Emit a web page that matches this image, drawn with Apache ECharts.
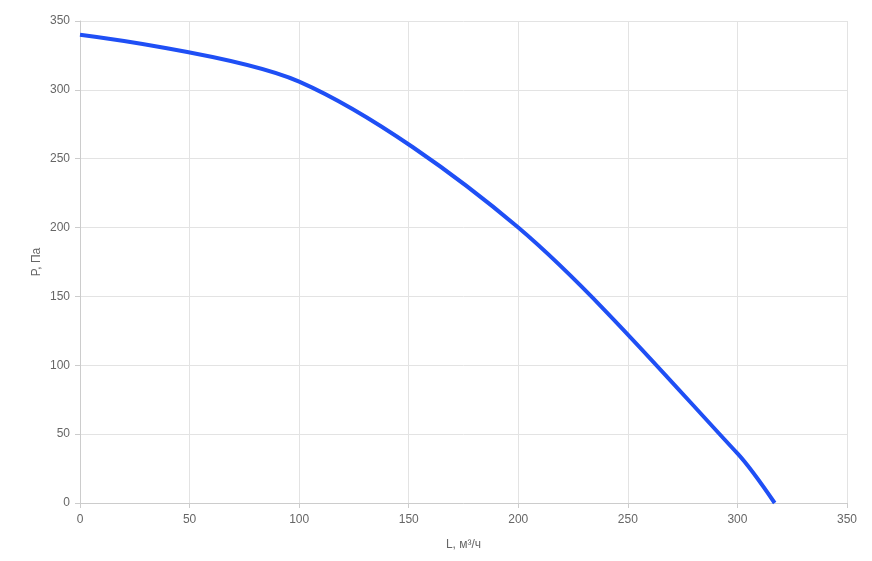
<!DOCTYPE html>
<html>
<head>
<meta charset="utf-8">
<script src="https://cdn.jsdelivr.net/npm/echarts@6/dist/echarts.min.js"></script>
<style>html,body{margin:0;padding:0;background:#fff}#c{width:872px;height:561px}</style>
</head>
<body>
<div id="c"></div>
<script>
const flowL = [0, 100, 200, 300, 317];
const pressureP = [340, 306, 200, 36, 0];
const xTicks = {min: 0, max: 350, interval: 50};
const yTicks = {min: 0, max: 350, interval: 50};
const xName = 'L, м³/ч';
const yName = 'P, Па';

const chart = echarts.init(document.getElementById('c'), null, {renderer: 'canvas'});
const fontFam = '"Liberation Sans", Arial, sans-serif';
const axisCommon = {
  axisLine: {show: true, lineStyle: {color: '#cccccc'}},
  axisTick: {show: true, length: 5, lineStyle: {color: '#cccccc'}},
  splitLine: {show: true, lineStyle: {color: '#e3e3e3'}},
  axisLabel: {color: '#666', fontSize: 12, fontFamily: fontFam},
  nameTextStyle: {color: '#666', fontSize: 12, fontFamily: fontFam}
};
chart.setOption({
  animation: false,
  grid: {left: 80, right: 25, top: 21, bottom: 58, containLabel: false},
  xAxis: Object.assign({}, axisCommon, {
    type: 'value', min: xTicks.min, max: xTicks.max, interval: xTicks.interval,
    name: xName, nameLocation: 'middle', nameGap: 36, nameMoveOverlap: false,
    axisLabel: Object.assign({}, axisCommon.axisLabel, {margin: 11})
  }),
  yAxis: Object.assign({}, axisCommon, {
    type: 'value', min: yTicks.min, max: yTicks.max, interval: yTicks.interval,
    name: yName, nameLocation: 'middle', nameGap: 37, nameRotate: 90, nameMoveOverlap: false,
    axisLabel: Object.assign({}, axisCommon.axisLabel, {margin: 10})
  }),
  series: [{
    type: 'line',
    data: flowL.map((x, i) => [x, pressureP[i]]),
    smooth: 0.3,
    showSymbol: false,
    lineStyle: {color: '#1f4ff5', width: 4},
    itemStyle: {color: '#1f4ff5'}
  }]
});
</script>
</body>
</html>
